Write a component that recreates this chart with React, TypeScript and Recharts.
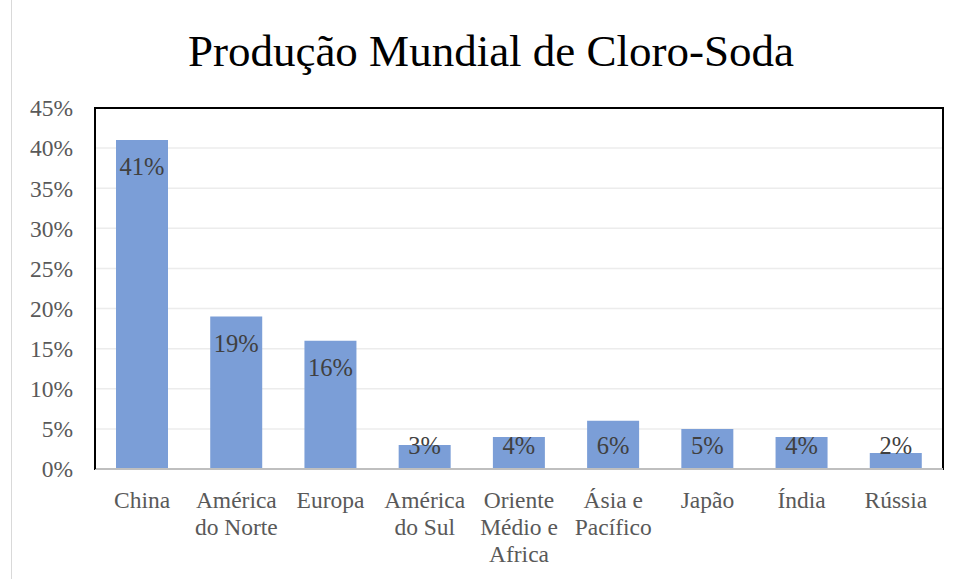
import React from 'react';
import { BarChart, Bar, XAxis, YAxis, CartesianGrid, LabelList, ReferenceArea, ReferenceLine } from 'recharts';

const categories = [
  'China',
  'América\ndo Norte',
  'Europa',
  'América\ndo Sul',
  'Oriente\nMédio e\nAfrica',
  'Ásia e\nPacífico',
  'Japão',
  'Índia',
  'Rússia',
];
const shares = [41, 19, 16, 3, 4, 6, 5, 4, 2];
const yTicks = [0, 5, 10, 15, 20, 25, 30, 35, 40, 45];

const data = categories.map((name, i) => ({ name, value: shares[i] }));

const FONT = '"Liberation Serif", "Times New Roman", serif';

const CategoryTick = (props: any) => {
  const { x, y, payload } = props;
  const lines = String(payload.value).split('\n');
  return (
    <text x={x} y={y} textAnchor="middle" fill="#595959" fontFamily={FONT} fontSize={23.5}>
      {lines.map((line, i) => (
        <tspan key={i} x={x} dy={i === 0 ? 31 : 27}>{line}</tspan>
      ))}
    </text>
  );
};

const ValueLabel = (props: any) => {
  const { x, y, width, height, value } = props;
  const baseline = Math.min(y + 35, y + height - 15);
  return (
    <text x={x + width / 2} y={baseline} textAnchor="middle" fill="#404040" fontFamily={FONT} fontSize={24.5}>
      {`${value}%`}
    </text>
  );
};

export default function App() {
  return (
    <div style={{ position: 'absolute', left: 0, top: 0, width: 965, height: 579, background: '#fff', fontFamily: FONT }}>
      <div style={{ position: 'absolute', left: 11, top: 0, width: 0, height: 579, borderLeft: '1px solid #d9d9d9' }} />
      <div style={{ position: 'absolute', left: 12, width: 958, top: 25, textAlign: 'center', fontSize: 45, color: '#000', lineHeight: '52px' }}>
        Produção Mundial de Cloro-Soda
      </div>
      <BarChart width={965} height={579} data={data} margin={{ top: 108, right: 22, left: 15, bottom: 0 }}>
        <CartesianGrid vertical={false} stroke="#ececec" strokeWidth={1.5} />
        <XAxis
          dataKey="name" interval={0} height={110} tick={<CategoryTick />}
          axisLine={{ stroke: '#bfbfbf', strokeWidth: 2 }} tickLine={false}
        />
        <YAxis
          domain={[0, 45]} ticks={yTicks} width={80} interval={0}
          tickFormatter={(v) => `${v}%`} tickMargin={16}
          tick={{ fontSize: 23.5, fill: '#595959', fontFamily: FONT }}
          axisLine={{ stroke: '#000', strokeWidth: 2 }} tickLine={false}
        />
        <Bar dataKey="value" fill="#7b9ed7" barSize={52} isAnimationActive={false}>
          <LabelList dataKey="value" content={<ValueLabel />} />
        </Bar>
        <ReferenceArea y1={0} y2={45} fill="none" stroke="#000" strokeWidth={2} />
        <ReferenceLine y={0} stroke="#bfbfbf" strokeWidth={2} />
      </BarChart>
    </div>
  );
}
